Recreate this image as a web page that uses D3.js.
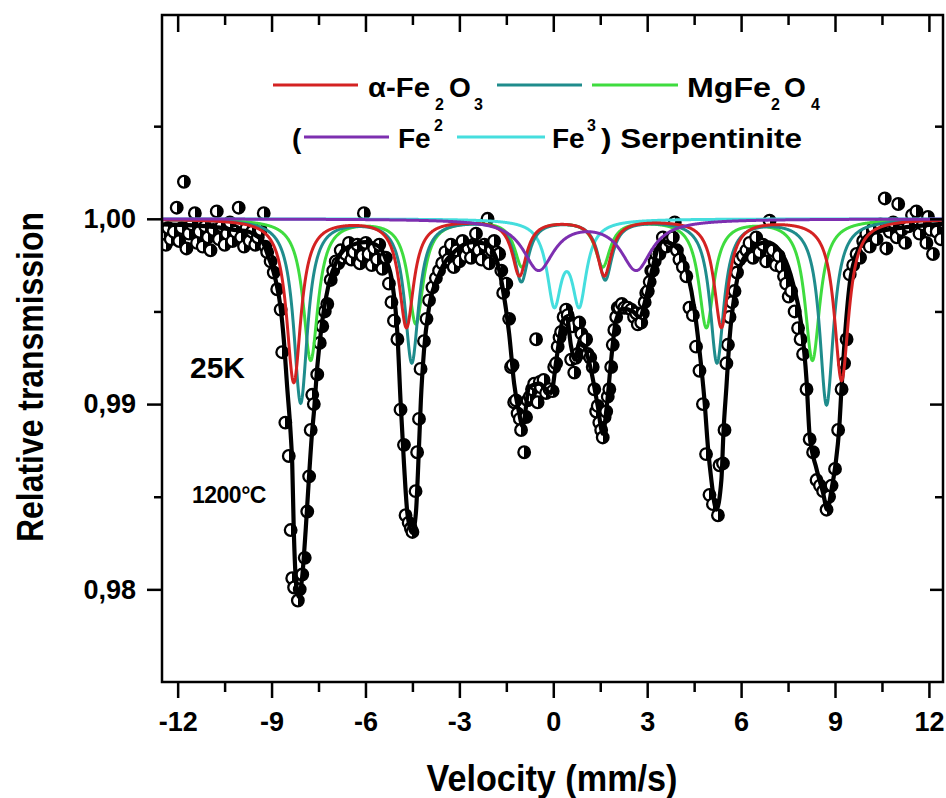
<!DOCTYPE html>
<html>
<head>
<meta charset="utf-8">
<script src="https://cdn.jsdelivr.net/npm/d3@7"></script>
<style>
  body { margin: 0; background: #fff; }
  svg text { font-family: "Liberation Sans", Arial, sans-serif; font-weight: bold; fill: #000; }
</style>
</head>
<body>
<svg id="chart"></svg>
<script>
var spectrum = [
  [-12.45,0.9992],[-12.38,0.9986],[-12.3,0.9995],[-12.22,0.9989],[-12.12,0.9993],[-12.03,1.0006],[-11.95,0.9988],
  [-11.87,0.9995],[-11.8,1.0020],[-11.72,0.9984],[-11.64,0.9992],[-11.55,0.9997],[-11.45,1.0003],[-11.38,0.9987],
  [-11.3,0.9993],[-11.2,0.9985],[-11.12,0.9996],[-11.03,0.9990],[-10.95,0.9983],[-10.86,0.9994],[-10.75,1.0004],
  [-10.68,0.9989],[-10.6,0.9996],[-10.5,0.9986],[-10.42,0.9992],[-10.33,0.9998],[-10.25,0.9988],[-10.15,0.9993],
  [-10.05,1.0006],[-9.97,0.9990],[-9.88,0.9985],[-9.8,0.9995],[-9.7,0.9988],[-9.62,0.9993],[-9.52,0.9986],
  [-9.44,0.9990],[-9.35,0.9994],[-9.25,1.0003],[-9.2,0.9985],
  [-9.14,0.9982],[-9.03,0.9977],[-8.93,0.9971],[-8.82,0.9962],[-8.71,0.9951],[-8.66,0.9928],[-8.56,0.9890],
  [-8.45,0.9872],[-8.39,0.9832],[-8.34,0.9806],[-8.28,0.9801],[-8.16,0.9794],[-8.1,0.9800],[-8.02,0.9808],
  [-7.94,0.9817],[-7.86,0.9842],[-7.8,0.9861],[-7.75,0.9886],[-7.7,0.9905],[-7.65,0.9900],[-7.54,0.9916],
  [-7.46,0.9933],[-7.38,0.9942],[-7.3,0.9950],[-7.22,0.9954],[-7.11,0.9967],[-7.03,0.9972],[-6.95,0.9977],
  [-6.87,0.9976],[-6.79,0.9983],
  [-6.71,0.9979],[-6.63,0.9981],[-6.53,0.9987],[-6.45,0.9978],[-6.37,0.9982],[-6.26,0.9986],[-6.18,0.9976],
  [-6.1,0.9980],[-6.05,1.0003],[-5.99,0.9987],[-5.9,0.9981],[-5.8,0.9975],[-5.72,0.9984],[-5.63,0.9978],
  [-5.56,0.9986],[-5.46,0.9973],[-5.35,0.9979],[-5.25,0.9965],
  [-5.17,0.9955],[-5.09,0.9945],[-4.98,0.9935],[-4.88,0.9897],[-4.77,0.9878],[-4.72,0.9840],[-4.62,0.9836],
  [-4.55,0.9833],[-4.5,0.9831],[-4.4,0.9853],[-4.35,0.9874],[-4.29,0.9892],[-4.24,0.9919],[-4.13,0.9934],
  [-4.05,0.9946],[-3.97,0.9956],[-3.86,0.9963],[-3.75,0.9968],[-3.65,0.9972],[-3.55,0.9976],
  [-3.45,0.9982],[-3.36,0.9978],[-3.27,0.9986],[-3.18,0.9974],[-3.09,0.9983],[-3.0,0.9977],[-2.9,0.9988],
  [-2.8,0.9980],[-2.71,0.9984],[-2.63,0.9979],[-2.55,0.9986],[-2.47,0.9992],[-2.38,0.9983],[-2.29,0.9978],
  [-2.2,0.9986],[-2.1,1.0000],[-2.05,0.9976],[-1.97,0.9983],[-1.89,0.9988],[-1.81,0.9982],[-1.73,0.9981],
  [-1.66,0.9972],[-1.6,0.9960],[-1.5,0.9965],[-1.41,0.9946],[-1.35,0.9920],[-1.3,0.9921],[-1.25,0.9901],
  [-1.19,0.9902],[-1.14,0.9895],[-1.07,0.9892],[-1.03,0.9886],[-0.93,0.9874],[-0.87,0.9893],[-0.82,0.9902],
  [-0.75,0.9904],[-0.68,0.9908],[-0.61,0.9911],[-0.55,0.9935],[-0.5,0.9901],[-0.43,0.9912],[-0.39,0.9909],
  [-0.31,0.9913],[-0.23,0.9906],[-0.12,0.9908],[-0.02,0.9907],[0.03,0.9920],[0.09,0.9922],[0.14,0.9931],
  [0.2,0.9936],[0.25,0.9939],[0.33,0.9947],[0.41,0.9951],[0.46,0.9948],[0.51,0.9945],[0.57,0.9924],
  [0.62,0.9942],[0.67,0.9917],[0.72,0.9925],[0.78,0.9927],[0.83,0.9944],[0.9,0.9938],[0.99,0.9934],
  [1.05,0.9935],[1.1,0.9927],[1.18,0.9925],[1.26,0.9920],[1.31,0.9908],[1.37,0.9896],[1.42,0.9899],
  [1.47,0.9890],[1.53,0.9886],[1.58,0.9882],[1.64,0.9893],[1.69,0.9896],[1.74,0.9904],[1.79,0.9908],
  [1.85,0.9920],[1.9,0.9932],[1.95,0.9940],[2.01,0.9947],[2.06,0.9952],[2.11,0.9952],[2.19,0.9954],
  [2.27,0.9952],[2.38,0.9952],[2.49,0.9951],[2.58,0.9947],[2.65,0.9949],[2.7,0.9943],[2.81,0.9944],
  [2.86,0.9949],[2.92,0.9955],[2.97,0.9960],[3.02,0.9961],[3.08,0.9966],[3.13,0.9972],[3.18,0.9972],
  [3.24,0.9977],[3.29,0.9981],[3.39,0.9981],[3.5,0.9990],[3.61,0.9985],[3.72,0.9988],[3.82,0.9990],
  [3.88,0.9998],[3.95,0.9983],
  [4.03,0.9978],[4.14,0.9974],[4.25,0.9969],[4.35,0.9952],[4.46,0.9948],[4.56,0.9931],[4.67,0.9918],
  [4.78,0.9900],[4.88,0.9873],[4.99,0.9851],[5.1,0.9846],[5.26,0.9840],[5.31,0.9867],[5.42,0.9868],
  [5.47,0.9886],[5.53,0.9922],[5.58,0.9932],[5.63,0.9947],[5.71,0.9955],[5.79,0.9961],[5.87,0.9971],
  [5.95,0.9978],[6.06,0.9980],[6.17,0.9983],
  [6.27,0.9987],[6.38,0.9979],[6.48,0.9990],[6.59,0.9982],[6.7,0.9986],[6.8,0.9977],[6.91,0.9999],
  [7.01,0.9983],[7.12,0.9975],[7.2,0.9980],[7.29,0.9974],
  [7.37,0.9969],[7.44,0.9965],[7.52,0.9958],[7.6,0.9961],[7.71,0.9950],[7.82,0.9941],[7.9,0.9935],
  [7.98,0.9927],[8.09,0.9908],[8.19,0.9881],[8.3,0.9874],[8.41,0.9859],[8.52,0.9856],[8.62,0.9853],
  [8.73,0.9843],[8.81,0.9850],[8.89,0.9856],[9.0,0.9865],[9.1,0.9886],[9.21,0.9908],[9.29,0.9922],
  [9.37,0.9935],[9.47,0.9970],[9.58,0.9975],[9.69,0.9981],[9.8,0.9979],[9.9,0.9988],
  [10.0,0.9992],[10.11,0.9985],[10.22,0.9995],[10.33,0.9989],[10.45,0.9997],[10.59,1.0011],[10.64,0.9984],
  [10.75,0.9993],[10.86,0.9998],[10.97,0.9990],[11.02,1.0008],[11.13,0.9994],[11.24,0.9987],[11.35,0.9996],
  [11.46,1.0002],[11.6,1.0004],[11.7,0.9992],[11.81,0.9997],[11.92,0.9987],[11.97,1.0001],[12.05,0.9994],
  [12.13,0.9981],[12.25,0.9993],[12.38,0.9989]
];

// total fit (thick black line), traced point by point
var totalFit = [
  [-12.5,0.9997],[-11.5,0.99965],[-10.8,0.99955],[-10.2,0.9994],[-9.73,0.9993],[-9.5,0.9991],[-9.3,0.9988],
  [-9.09,0.9979],[-8.87,0.9967],[-8.71,0.9952],[-8.61,0.9935],[-8.5,0.9909],[-8.39,0.9884],[-8.34,0.9868],
  [-8.29,0.9832],[-8.23,0.9807],[-8.13,0.9796],[-8.02,0.9807],[-7.91,0.9832],[-7.81,0.9859],[-7.7,0.9886],
  [-7.65,0.9895],[-7.54,0.9920],[-7.38,0.9945],[-7.17,0.9965],[-6.9,0.9978],[-6.53,0.9985],[-5.99,0.99874],
  [-5.57,0.9985],[-5.35,0.9978],[-5.14,0.9965],[-4.98,0.9938],[-4.88,0.9902],[-4.77,0.9868],[-4.66,0.9841],
  [-4.5,0.98305],[-4.39,0.9841],[-4.29,0.9877],[-4.23,0.9902],[-4.13,0.9929],[-3.97,0.9952],[-3.65,0.9970],
  [-3.11,0.9983],[-2.58,0.99874],[-2.15,0.99865],[-1.83,0.9979],[-1.62,0.9963],[-1.41,0.9938],[-1.25,0.9911],
  [-1.09,0.9895],[-0.98,0.9888],[-0.77,0.9909],[-0.45,0.9911],[-0.07,0.9906],[0.1,0.9924],[0.3,0.9945],
  [0.43,0.9947],[0.57,0.9931],[0.7,0.9924],[0.83,0.9933],[0.99,0.9931],[1.21,0.9918],[1.42,0.9899],
  [1.58,0.9884],[1.71,0.9899],[1.85,0.9924],[2.0,0.9945],[2.22,0.99515],[2.54,0.9950],[2.75,0.9947],
  [2.97,0.9958],[3.18,0.9974],[3.45,0.9988],[3.7,0.9987],[4.03,0.9983],[4.3,0.9970],[4.51,0.9951],
  [4.67,0.9929],[4.83,0.9902],[4.94,0.9877],[5.05,0.9859],[5.21,0.9843],[5.37,0.9859],[5.44,0.9886],
  [5.53,0.9909],[5.63,0.9935],[5.85,0.9965],[6.17,0.9981],[6.81,0.99874],[7.23,0.9983],[7.66,0.9965],
  [7.93,0.9942],[8.09,0.9913],[8.19,0.9883],[8.41,0.9865],[8.62,0.9852],[8.75,0.9843],[8.89,0.9854],
  [9.02,0.9868],[9.13,0.9886],[9.21,0.9909],[9.31,0.9935],[9.47,0.9965],[9.69,0.9981],[10.11,0.9992],
  [11.28,0.99955],[12.45,0.99973]
];

// fitted subspectra: line positions (mm/s), line depths; half widths are set below
var hematitePos   = [-8.29, -4.69, -1.08, 1.63, 5.37, 9.21];
var hematiteDepth = [0.0088, 0.0058, 0.0030, 0.0030, 0.0058, 0.0087];
var sextet2Pos    = [-8.07, -4.52, -1.02, 1.66, 5.23, 8.73];
var sextet2Depth  = [0.0099, 0.0077, 0.0033, 0.0032, 0.0077, 0.0100];
var ferritePos    = [-7.75, -4.39, -1.0, 1.58, 4.89, 8.28];
var ferriteDepth  = [0.0076, 0.0056, 0.0025, 0.0025, 0.0058, 0.0076];
var fe2Pos   = [-0.47, 2.65];
var fe2Depth = [0.0027, 0.0027];
var fe3Pos   = [0.03, 0.83];
var fe3Depth = [0.00433, 0.00433];

var xMajor = [-12, -9, -6, -3, 0, 3, 6, 9, 12];
var xMinor = [-10.5, -7.5, -4.5, -1.5, 1.5, 4.5, 7.5, 10.5];
var yMajor = [0.98, 0.99, 1.00];
var yMinor = [0.985, 0.995, 1.005];

function drawChart() {
  var components = [
    {pos: fe3Pos,      depth: fe3Depth,      hw: 0.28, color: "#45dede"},
    {pos: ferritePos,  depth: ferriteDepth,  hw: 0.29, color: "#3fdc3f"},
    {pos: sextet2Pos,  depth: sextet2Depth,  hw: 0.27, color: "#1f8c8c"},
    {pos: hematitePos, depth: hematiteDepth, hw: 0.28, color: "#d42222"},
    {pos: fe2Pos,      depth: fe2Depth,      hw: 0.6,  color: "#7d2fb0"}
  ];

  var width = 946, height = 798;
  var pLeft = 162, pRight = 943, pTop = 15, pBottom = 682;

  var x = d3.scaleLinear().domain([-12.5, 12.45]).range([pLeft, pRight]);
  var y = d3.scaleLinear().domain([0.975, 1.011]).range([pBottom, pTop]);

  var svg = d3.select("#chart").attr("width", width).attr("height", height);

  var defs = svg.append("defs");
  defs.append("clipPath").attr("id", "plot")
    .append("rect").attr("x", pLeft).attr("y", pTop)
    .attr("width", pRight - pLeft).attr("height", pBottom - pTop);
  var grad = defs.append("linearGradient").attr("id", "half")
    .attr("x1", 0).attr("x2", 1).attr("y1", 0).attr("y2", 0);
  grad.append("stop").attr("offset", "0.5").attr("stop-color", "#fff");
  grad.append("stop").attr("offset", "0.5").attr("stop-color", "#000");

  var plot = svg.append("g").attr("clip-path", "url(#plot)");

  // data points
  plot.append("g")
    .selectAll("circle")
    .data(spectrum)
    .enter()
    .append("circle")
      .attr("cx", d => x(d[0]))
      .attr("cy", d => y(d[1]))
      .attr("r", 5.8)
      .attr("fill", "url(#half)")
      .attr("stroke", "#000")
      .attr("stroke-width", 2.3);

  // total fit
  plot.append("path")
    .datum(totalFit)
    .attr("fill", "none")
    .attr("stroke", "#000")
    .attr("stroke-width", 4.2)
    .attr("stroke-linejoin", "round")
    .attr("d", d3.line().x(d => x(d[0])).y(d => y(d[1])).curve(d3.curveMonotoneX));

  // subspectra drawn as Lorentzian lines
  var grid = d3.range(-12.5, 12.46, 0.01);
  function lorentz(c, v) {
    var s = 0;
    c.pos.forEach((p, i) => {
      var u = (v - p) / c.hw;
      s += c.depth[i] / (1 + u * u);
    });
    return 1 - s;
  }
  var compLine = d3.line().x(d => x(d[0])).y(d => y(d[1]));
  components.forEach(c => {
    plot.append("path")
      .datum(grid.map(v => [v, lorentz(c, v)]))
      .attr("fill", "none")
      .attr("stroke", c.color)
      .attr("stroke-width", 3)
      .attr("d", compLine);
  });

  // axes
  function styleAxis(g) {
    g.select(".domain").remove();
    g.selectAll(".tick line").attr("stroke", "#000").attr("stroke-width", 2.5);
    g.selectAll(".tick text").style("font-size", "27px").attr("fill", "#000");
  }

  svg.append("g").attr("transform", `translate(0,${pBottom})`)
    .call(d3.axisBottom(x).tickValues(xMajor).tickSize(16).tickPadding(14).tickFormat(d => String(d)))
    .call(styleAxis);
  svg.append("g").attr("transform", `translate(0,${pBottom})`)
    .call(d3.axisBottom(x).tickValues(xMinor).tickSize(10).tickFormat(""))
    .call(styleAxis);
  svg.append("g").attr("transform", `translate(0,${pTop})`)
    .call(d3.axisTop(x).tickValues(xMajor).tickSize(-17).tickFormat(""))
    .call(styleAxis);
  svg.append("g").attr("transform", `translate(0,${pTop})`)
    .call(d3.axisTop(x).tickValues(xMinor).tickSize(-10).tickFormat(""))
    .call(styleAxis);

  svg.append("g").attr("transform", `translate(${pLeft},0)`)
    .call(d3.axisLeft(y).tickValues(yMajor).tickSize(15).tickPadding(11)
      .tickFormat(d => d3.format(".2f")(d).replace(".", ",")))
    .call(styleAxis);
  svg.append("g").attr("transform", `translate(${pLeft},0)`)
    .call(d3.axisLeft(y).tickValues(yMinor).tickSize(8).tickFormat(""))
    .call(styleAxis);
  svg.append("g").attr("transform", `translate(${pRight},0)`)
    .call(d3.axisRight(y).tickValues(yMajor).tickSize(-13).tickFormat(""))
    .call(styleAxis);
  svg.append("g").attr("transform", `translate(${pRight},0)`)
    .call(d3.axisRight(y).tickValues(yMinor).tickSize(-8).tickFormat(""))
    .call(styleAxis);

  svg.append("rect")
    .attr("x", pLeft).attr("y", pTop)
    .attr("width", pRight - pLeft).attr("height", pBottom - pTop)
    .attr("fill", "none").attr("stroke", "#000").attr("stroke-width", 2.5);

  // axis titles
  svg.append("text")
    .attr("transform", "translate(43,377) rotate(-90)")
    .attr("text-anchor", "middle")
    .attr("textLength", 330).attr("lengthAdjust", "spacingAndGlyphs")
    .style("font-size", "36px")
    .text("Relative transmission");
  svg.append("text")
    .attr("x", 552).attr("y", 791)
    .attr("text-anchor", "middle")
    .attr("textLength", 251).attr("lengthAdjust", "spacingAndGlyphs")
    .style("font-size", "36px")
    .text("Velocity (mm/s)");

  // annotations
  svg.append("text").attr("x", 190).attr("y", 378).style("font-size", "30px").text("25K");
  svg.append("text").attr("x", 192).attr("y", 503).style("font-size", "23px")
    .style("letter-spacing", "-0.5px").text("1200°C");

  // legend
  var legendLines = [
    {x1: 273, x2: 358, y: 85, color: "#d42222"},
    {x1: 497, x2: 582, y: 85, color: "#1f8c8c"},
    {x1: 592, x2: 678, y: 85, color: "#3fdc3f"},
    {x1: 304, x2: 389, y: 137, color: "#7d2fb0"},
    {x1: 457, x2: 545, y: 137, color: "#45dede"}
  ];
  svg.append("g").selectAll("line")
    .data(legendLines)
    .enter()
    .append("line")
      .attr("x1", d => d.x1).attr("x2", d => d.x2)
      .attr("y1", d => d.y).attr("y2", d => d.y)
      .attr("stroke", d => d.color)
      .attr("stroke-width", 3);

  var legendText = [
    {t: "α-Fe", x: 368, y: 97, s: 28, w: 62},
    {t: "2", x: 435, y: 110, s: 16},
    {t: "O", x: 449, y: 97, s: 28},
    {t: "3", x: 474, y: 110, s: 16},
    {t: "MgFe", x: 687, y: 97, s: 28, w: 84},
    {t: "2", x: 771, y: 110, s: 16},
    {t: "O", x: 784, y: 97, s: 28},
    {t: "4", x: 811, y: 110, s: 16},
    {t: "(", x: 292, y: 148, s: 28},
    {t: "Fe", x: 398, y: 148, s: 28},
    {t: "2", x: 434, y: 131, s: 16},
    {t: "Fe", x: 552, y: 148, s: 28},
    {t: "3", x: 587, y: 131, s: 16},
    {t: ") Serpentinite", x: 601, y: 148, s: 28, w: 201}
  ];
  svg.append("g").selectAll("text")
    .data(legendText)
    .enter()
    .append("text")
      .attr("x", d => d.x).attr("y", d => d.y)
      .style("font-size", d => d.s + "px")
      .each(function(d) {
        if (d.w) d3.select(this).attr("textLength", d.w).attr("lengthAdjust", "spacingAndGlyphs");
      })
      .text(d => d.t);
}

drawChart();
</script>
</body>
</html>
